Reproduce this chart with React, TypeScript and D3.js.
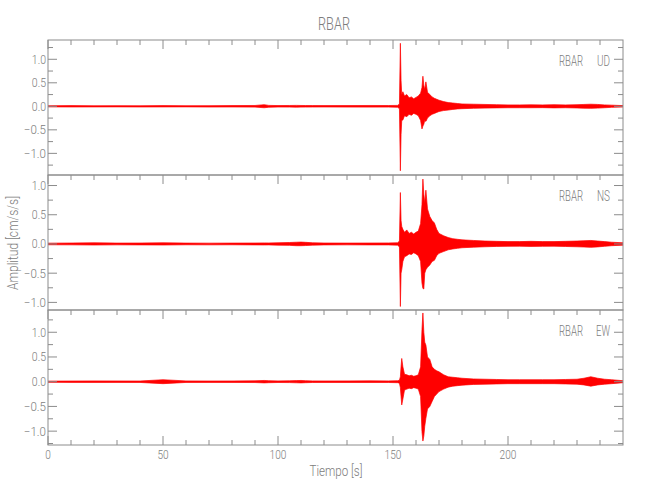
import React from "react";
import * as d3 from "d3";

const station = "RBAR";
const channels = ["UD", "NS", "EW"];
const xLabel = "Tiempo [s]";
const yLabel = "Amplitud [cm/s/s]";
const xMajorTicks = [0, 50, 100, 150, 200];
const yMajorTicks = [-1.0, -0.5, 0.0, 0.5, 1.0];
const yDomains = [
  [-1.46, 1.41],
  [-1.13, 1.18],
  [-1.28, 1.45],
];

const times = [
  0, 10, 20, 30, 40, 50, 60, 70, 80, 90, 94, 96, 100, 105, 108, 110, 112, 115, 120, 130, 140, 148, 152,
  152.8, 153.2, 153.5, 153.8, 154.3, 155, 156, 157, 158, 159, 160, 161, 162, 162.6, 163, 163.4, 163.8,
  164.3, 165, 166, 167, 168, 169, 170, 172, 174, 176, 178, 180, 185, 190, 195, 200, 205, 210, 215, 220,
  225, 230, 233, 236, 239, 242, 245, 250,
];

const udHigh = [
  0.012, 0.015, 0.012, 0.014, 0.012, 0.015, 0.013, 0.014, 0.016, 0.018, 0.035, 0.02, 0.016, 0.018, 0.02,
  0.018, 0.017, 0.016, 0.015, 0.016, 0.018, 0.017, 0.02,
  0.05, 1.34, 0.55, 0.25, 0.31, 0.22, 0.25, 0.18, 0.2, 0.16, 0.19, 0.22, 0.28, 0.4, 0.64, 0.45, 0.35,
  0.52, 0.3, 0.25, 0.2, 0.17, 0.15, 0.13, 0.1, 0.08, 0.07, 0.06, 0.05, 0.045, 0.04, 0.035, 0.03, 0.03,
  0.032, 0.03, 0.035, 0.03, 0.035, 0.04, 0.045, 0.04, 0.03, 0.025, 0.015,
];
const udLow = [
  -0.012, -0.014, -0.013, -0.012, -0.014, -0.013, -0.012, -0.015, -0.014, -0.017, -0.03, -0.02, -0.015,
  -0.016, -0.018, -0.017, -0.016, -0.015, -0.014, -0.016, -0.017, -0.016, -0.02,
  -0.05, -1.37, -0.6, -0.3, -0.29, -0.2, -0.22, -0.17, -0.19, -0.15, -0.17, -0.2, -0.3, -0.48, -0.42,
  -0.38, -0.3, -0.32, -0.25, -0.2, -0.17, -0.15, -0.13, -0.11, -0.09, -0.08, -0.065, -0.055, -0.05,
  -0.042, -0.038, -0.033, -0.03, -0.03, -0.03, -0.028, -0.033, -0.03, -0.035, -0.04, -0.043, -0.038,
  -0.03, -0.022, -0.015,
];

const nsHigh = [
  0.014, 0.016, 0.02, 0.015, 0.016, 0.02, 0.015, 0.014, 0.015, 0.016, 0.018, 0.017, 0.02, 0.025, 0.03,
  0.032, 0.028, 0.02, 0.016, 0.015, 0.016, 0.017, 0.02,
  0.05, 0.88, 0.4, 0.3, 0.25, 0.2, 0.24, 0.18, 0.2, 0.17, 0.2, 0.22, 0.35, 0.67, 1.11, 0.85, 0.7, 0.92,
  0.6, 0.47, 0.4, 0.36, 0.25, 0.18, 0.14, 0.11, 0.09, 0.08, 0.07, 0.06, 0.05, 0.045, 0.04, 0.04, 0.045,
  0.04, 0.04, 0.045, 0.05, 0.055, 0.06, 0.05, 0.04, 0.03, 0.02,
];
const nsLow = [
  -0.014, -0.015, -0.018, -0.015, -0.016, -0.018, -0.014, -0.015, -0.014, -0.016, -0.017, -0.016,
  -0.02, -0.024, -0.03, -0.03, -0.027, -0.02, -0.016, -0.015, -0.016, -0.016, -0.02,
  -0.05, -1.07, -0.5, -0.44, -0.3, -0.22, -0.2, -0.17, -0.18, -0.15, -0.17, -0.2, -0.3, -0.67, -0.76,
  -0.77, -0.5, -0.44, -0.4, -0.36, -0.3, -0.28, -0.2, -0.16, -0.13, -0.1, -0.085, -0.075, -0.065,
  -0.055, -0.048, -0.042, -0.04, -0.038, -0.042, -0.04, -0.038, -0.043, -0.048, -0.052, -0.058, -0.05,
  -0.04, -0.03, -0.02,
];

const ewHigh = [
  0.012, 0.014, 0.016, 0.015, 0.014, 0.04, 0.016, 0.014, 0.015, 0.018, 0.025, 0.02, 0.016, 0.018, 0.022,
  0.025, 0.02, 0.016, 0.015, 0.016, 0.017, 0.016, 0.02,
  0.03, 0.1, 0.3, 0.47, 0.3, 0.15, 0.14, 0.12, 0.13, 0.11, 0.12, 0.14, 0.3, 1.05, 1.39, 1.0, 0.8, 0.74,
  0.5, 0.45, 0.3, 0.25, 0.22, 0.2, 0.14, 0.1, 0.09, 0.08, 0.07, 0.055, 0.05, 0.045, 0.04, 0.04, 0.04,
  0.04, 0.04, 0.045, 0.05, 0.07, 0.1, 0.07, 0.05, 0.04, 0.02,
];
const ewLow = [
  -0.012, -0.014, -0.015, -0.014, -0.015, -0.04, -0.015, -0.014, -0.015, -0.017, -0.024, -0.02,
  -0.016, -0.018, -0.022, -0.024, -0.02, -0.016, -0.015, -0.016, -0.016, -0.016, -0.02,
  -0.03, -0.12, -0.3, -0.47, -0.35, -0.17, -0.15, -0.13, -0.14, -0.12, -0.13, -0.15, -0.3, -1.01, -1.2,
  -1.1, -0.9, -0.74, -0.55, -0.5, -0.4, -0.3, -0.25, -0.2, -0.15, -0.11, -0.09, -0.08, -0.07, -0.055,
  -0.05, -0.045, -0.04, -0.04, -0.04, -0.04, -0.04, -0.045, -0.05, -0.065, -0.09, -0.065, -0.05, -0.04,
  -0.02,
];

const highs = [udHigh, nsHigh, ewHigh];
const lows = [udLow, nsLow, ewLow];

const FONT = "Roboto, 'DejaVu Sans', sans-serif";
const GREY = "#7c7c7c";
const AXIS = "#8c8c8c";
const RED = "#ff0000";

// approximate rendered width of a numeric label in the reference's narrow font
function labelWidth(s: string): number {
  let w = 0;
  for (const c of s) {
    if (c === ".") w += 3;
    else if (c === "\u2212" || c === "-") w += 8;
    else w += 5.6;
  }
  return w;
}

type TProps = {
  x: number;
  y: number;
  w: number;
  size: number;
  anchor?: "start" | "middle" | "end";
  children: React.ReactNode;
  transform?: string;
};
function T({ x, y, w, size, anchor = "start", children, transform }: TProps) {
  return (
    <text
      x={x}
      y={y}
      textAnchor={anchor}
      fontSize={size}
      fontWeight={300}
      fill={GREY}
      textLength={w}
      lengthAdjust="spacingAndGlyphs"
      transform={transform}
    >
      {children}
    </text>
  );
}

export default function App() {
  const W = 650;
  const H = 500;
  const left = 48;
  const right = 623;
  const tops = [40, 175, 310];
  const ph = 135;
  const x = d3.scaleLinear().domain([0, 250]).range([left, right]);
  const xMinor = d3.range(0, 251, 10).filter((v) => v % 50 !== 0 && v < 250);
  const fmt = d3.format(".1f");

  return (
    <svg
      width={W}
      height={H}
      style={{ position: "absolute", left: 0, top: 0, background: "#fff" }}
      fontFamily={FONT}
    >
      <rect x={0} y={0} width={W} height={H} fill="#fff" />
      <T x={334} y={30} w={32} size={18} anchor="middle">
        {station}
      </T>
      {channels.map((ch, i) => {
        const top = tops[i];
        const bottom = top + ph;
        const y = d3.scaleLinear().domain(yDomains[i]).range([bottom, top]);
        const area = d3
          .area<number>()
          .x((_, k) => x(times[k]))
          .y0((_, k) => y(lows[i][k]))
          .y1((_, k) => y(highs[i][k]));
        const [d0, d1] = yDomains[i];
        const yMinor = d3
          .range(-1.5, 1.51, 0.25)
          .filter((v) => v > d0 && v < d1 && Math.abs((v * 2) % 1) > 0.01);
        const yMaj = yMajorTicks.filter((v) => v >= d0 && v <= d1);
        const isLast = i === channels.length - 1;
        return (
          <g key={ch}>
            <clipPath id={`clip${i}`}>
              <rect x={left} y={top} width={right - left} height={ph} />
            </clipPath>
            <g clipPath={`url(#clip${i})`}>
              <path d={area(times) || ""} fill={RED} stroke={RED} strokeWidth={0.7} />
            </g>
            <rect x={left} y={top} width={right - left} height={ph} fill="none" stroke={AXIS} strokeWidth={1} />
            {xMajorTicks.map((v) => (
              <line key={`tM${v}`} x1={x(v)} x2={x(v)} y1={top} y2={top + 9} stroke={AXIS} />
            ))}
            {xMinor.map((v) => (
              <line key={`tm${v}`} x1={x(v)} x2={x(v)} y1={top} y2={top + 5} stroke={AXIS} />
            ))}
            {isLast &&
              xMajorTicks.map((v) => (
                <g key={`bM${v}`}>
                  <line x1={x(v)} x2={x(v)} y1={bottom} y2={bottom - 9} stroke={AXIS} />
                  <T x={x(v)} y={bottom + 14} w={labelWidth(String(v))} size={12.5} anchor="middle">
                    {v}
                  </T>
                </g>
              ))}
            {isLast &&
              xMinor.map((v) => (
                <line key={`bm${v}`} x1={x(v)} x2={x(v)} y1={bottom} y2={bottom - 5} stroke={AXIS} />
              ))}
            {yMaj.map((v) => (
              <g key={`yM${v}`}>
                <line x1={left} x2={left + 9} y1={y(v)} y2={y(v)} stroke={AXIS} />
                <line x1={right} x2={right - 9} y1={y(v)} y2={y(v)} stroke={AXIS} />
                <T x={left - 2} y={y(v) + 4.5} w={labelWidth(fmt(v))} size={12.5} anchor="end">
                  {fmt(v)}
                </T>
              </g>
            ))}
            {yMinor.map((v) => (
              <g key={`ym${v}`}>
                <line x1={left} x2={left + 5} y1={y(v)} y2={y(v)} stroke={AXIS} />
                <line x1={right} x2={right - 5} y1={y(v)} y2={y(v)} stroke={AXIS} />
              </g>
            ))}
            <T x={559} y={top + 26} w={24} size={14}>
              {station}
            </T>
            <T x={610} y={top + 26} w={ch === "EW" ? 14 : 13} size={14} anchor="end">
              {ch}
            </T>
          </g>
        );
      })}
      <T x={336} y={476} w={53} size={14} anchor="middle">
        {xLabel}
      </T>
      <T x={0} y={0} w={94} size={14} anchor="middle" transform="translate(18,243) rotate(-90)">
        {yLabel}
      </T>
    </svg>
  );
}
